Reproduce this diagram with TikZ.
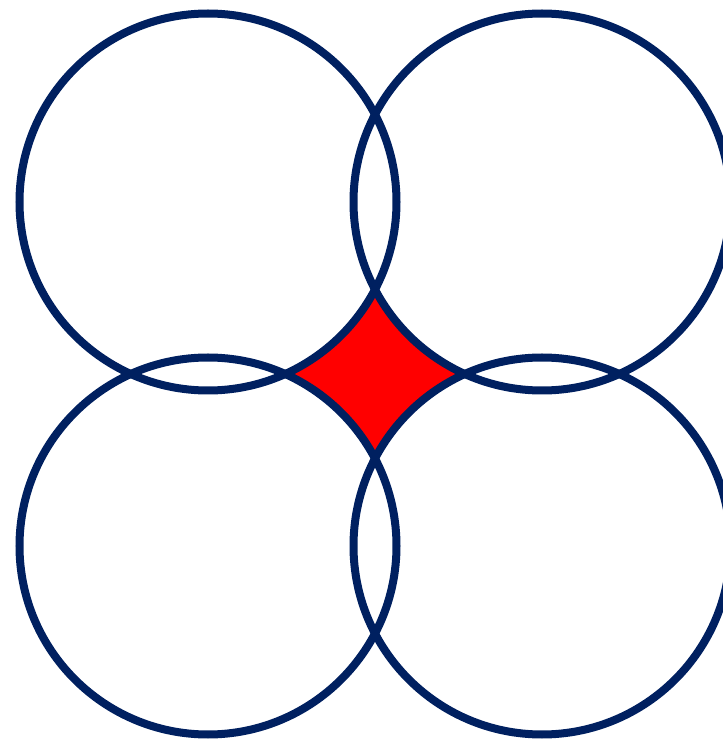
\documentclass[tikz,border=0pt]{standalone}
\usepackage{xcolor}
\usepackage{tikz}
\usetikzlibrary{calc}
\definecolor{ringNavy}{RGB}{0,32,96}
\definecolor{gapRed}{RGB}{255,0,0}

\begin{document}
\begin{tikzpicture}[x=0.025cm,y=0.025cm]
\useasboundingbox (0,0) rectangle (723,739);
\def\rr{188.5}
\coordinate (tl) at (208,537);
\coordinate (tr) at (542,537);
\coordinate (bl) at (208,193);
\coordinate (br) at (542,193);
% gap between the four rings
\fill[gapRed] (285.1,365)
arc[start angle=-65.85, end angle=-27.63, radius=\rr]
arc[start angle=207.63, end angle=245.85, radius=\rr]
arc[start angle=114.15, end angle=152.37, radius=\rr]
arc[start angle=27.63, end angle=65.85, radius=\rr] -- cycle;
\foreach \c in {tl,tr,bl,br}
\draw[ringNavy, line width=0.2cm] (\c) circle[radius=\rr];
\end{tikzpicture}
\end{document}
